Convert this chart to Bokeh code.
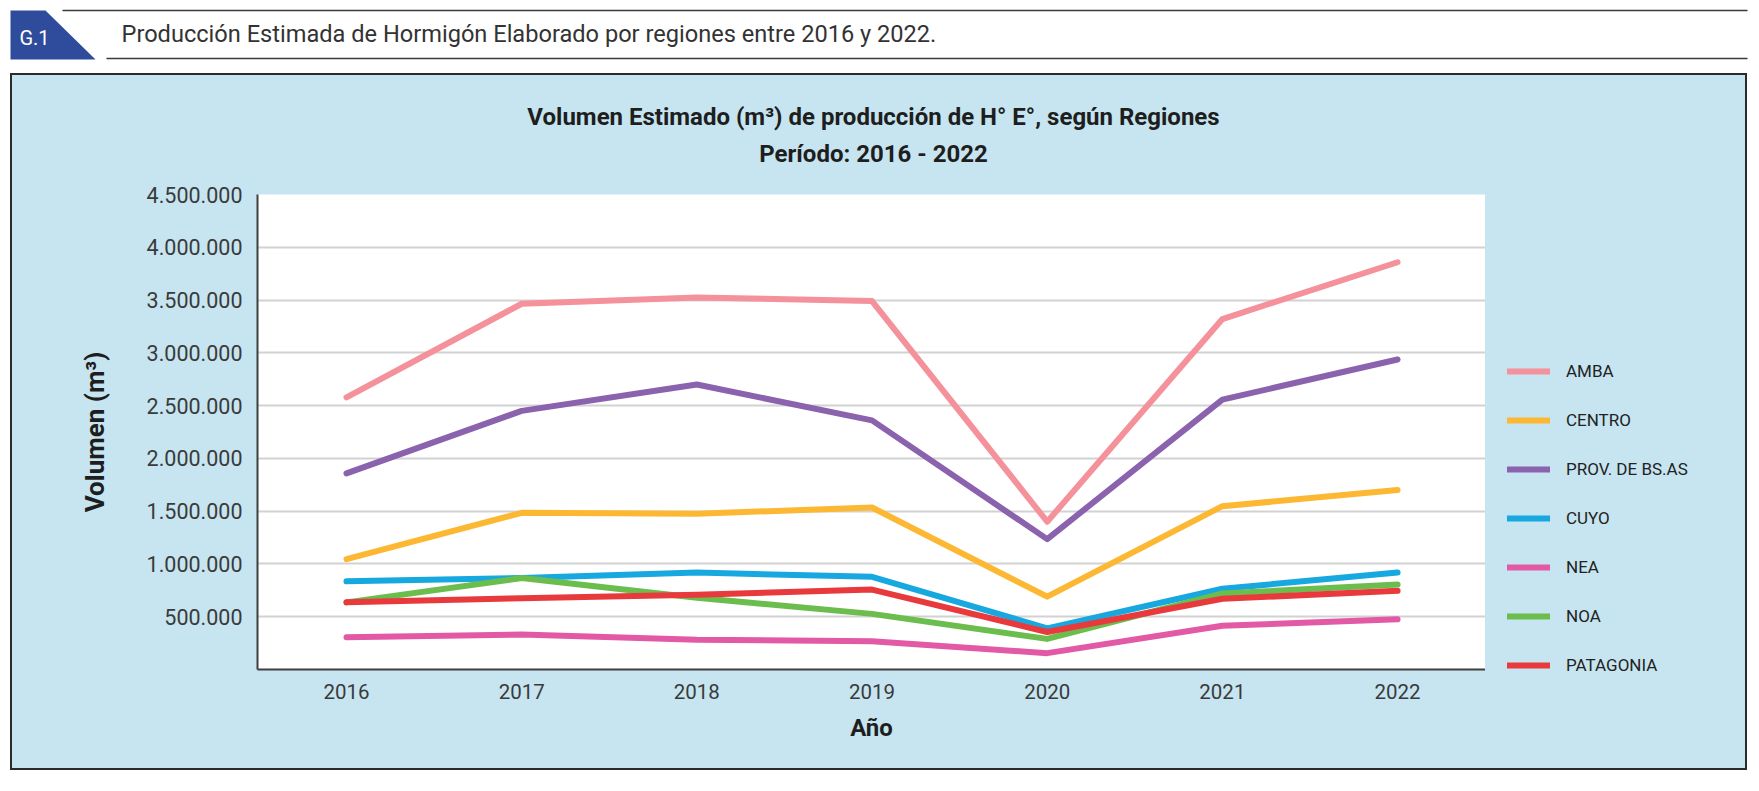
from bokeh.plotting import figure
from bokeh.models import Legend, LegendItem, FixedTicker, Range1d, Spacer
from bokeh.layouts import column, row
from bokeh.core.properties import value
from bokeh.embed import file_html
from bokeh.resources import INLINE

# ---------------- data ----------------
years = [2016, 2017, 2018, 2019, 2020, 2021, 2022]
amba = [2579000, 3465000, 3525000, 3490000, 1400000, 3320000, 3858000]
centro = [1045000, 1484000, 1476000, 1535000, 690000, 1547000, 1700000]
prov_bsas = [1858000, 2450000, 2700000, 2360000, 1235000, 2557000, 2937000]
cuyo = [835000, 866000, 918000, 878000, 390000, 765000, 918000]
nea = [305000, 331000, 281000, 268000, 155000, 415000, 475000]
noa = [636000, 866000, 680000, 527000, 290000, 720000, 805000]
patagonia = [636000, 675000, 708000, 757000, 355000, 670000, 745000]

series_names = ["AMBA", "CENTRO", "PROV. DE BS.AS", "CUYO", "NEA", "NOA", "PATAGONIA"]
series_values = [amba, centro, prov_bsas, cuyo, nea, noa, patagonia]
series_colors = ["#F4919A", "#FDB833", "#8B62AD", "#17A8E0", "#E25AA6", "#6BBE4E", "#E83A3C"]

y_ticks = [500000, 1000000, 1500000, 2000000, 2500000, 3000000, 3500000, 4000000, 4500000]
y_tick_labels = ["500.000", "1.000.000", "1.500.000", "2.000.000", "2.500.000",
                 "3.000.000", "3.500.000", "4.000.000", "4.500.000"]

header_title = "Producción Estimada de Hormigón Elaborado por regiones entre 2016 y 2022."
header_tag = "G.1"
chart_title_1 = "Volumen Estimado (m³) de producción de H° E°, según Regiones"
chart_title_2 = "Período: 2016 - 2022"
x_title = "Año"
y_title = "Volumen (m³)"

FONT = "Roboto"
BLUE_BG = "#C6E5F0"
DARK = "#2B2B2B"


def pixel_figure(w, hgt, bg, x0=0, border_left=0):
    f = figure(width=w, height=hgt, output_backend="svg", toolbar_location=None,
               x_range=Range1d(x0, w), y_range=Range1d(hgt, 0),
               x_axis_type=None, y_axis_type=None, min_border=0,
               min_border_left=border_left)
    f.title.visible = False
    f.outline_line_color = None
    f.background_fill_color = bg
    f.border_fill_color = bg
    f.xgrid.visible = False
    f.ygrid.visible = False
    return f


# ---------------- header strip ----------------
h = pixel_figure(1759, 73, "white")
h.patch([10, 45, 95, 10], [10, 10, 59, 59], fill_color="#2F4C9C", line_color=None)
h.line([62, 1747], [10, 10], line_color="#3A3A3A", line_width=1.5)
h.line([106, 1747], [58, 58], line_color="#3A3A3A", line_width=1.5)
h.text(x=[34], y=[37], text=[header_tag], text_font=value(FONT), text_font_size="20px",
       text_color="white", text_align="center", text_baseline="middle")
h.text(x=[121], y=[33], text=[header_title], text_font=value(FONT), text_font_size="23.6px",
       text_color="#333333", text_align="left", text_baseline="middle")

# ---------------- chart title strip (frame aligned with the chart frame) ----------------
PW, FL = 1473, 245
tf = pixel_figure(PW, 99, BLUE_BG, x0=FL, border_left=FL)
tf.text(x=[861, 861], y=[41, 78], text=[chart_title_1, chart_title_2],
        text_font=value(FONT), text_font_size="24px", text_font_style="bold",
        text_color="#1E1E1E", text_align="center", text_baseline="middle")

# ---------------- main chart ----------------
H = 594
p = figure(width=PW, height=H, output_backend="svg", toolbar_location=None,
           x_range=Range1d(2015.492, 2022.502), y_range=Range1d(0, 4500000),
           min_border_left=FL, min_border_right=0, min_border_top=20, min_border_bottom=99)
p.title.visible = False
p.border_fill_color = BLUE_BG
p.background_fill_color = "white"
p.outline_line_color = None

p.xgrid.visible = False
p.ygrid.ticker = FixedTicker(ticks=y_ticks)
p.ygrid.grid_line_color = "#D2D2D2"
p.ygrid.grid_line_width = 2

for ax in (p.xaxis[0], p.yaxis[0]):
    ax.axis_line_color = "#3F3F3F"
    ax.axis_line_width = 2
    ax.major_tick_line_color = None
    ax.major_tick_out = 0
    ax.major_tick_in = 0
    ax.minor_tick_line_color = None
    ax.major_label_text_font = FONT
    ax.major_label_text_color = "#3A3A3A"
    ax.axis_label_text_font = FONT
    ax.axis_label_text_font_style = "bold"
    ax.axis_label_text_color = "#1E1E1E"

p.xaxis.ticker = FixedTicker(ticks=years)
p.xaxis.major_label_text_font_size = "20.5px"
p.xaxis.major_label_standoff = 14
p.xaxis.axis_label = x_title
p.xaxis.axis_label_text_font_size = "24px"
p.xaxis.axis_label_standoff = 12

p.yaxis.ticker = FixedTicker(ticks=y_ticks)
p.yaxis.major_label_overrides = {t: l for t, l in zip(y_ticks, y_tick_labels)}
p.yaxis.major_label_text_font_size = "21.5px"
p.yaxis.major_label_standoff = 15
p.yaxis.axis_label = y_title
p.yaxis.axis_label_text_font_size = "26px"
p.yaxis.axis_label_standoff = 34

for vals, col in zip(series_values, series_colors):
    p.line(years, vals, line_color=col, line_width=6, line_cap="round", line_join="round")

# ---------------- legend panel ----------------
LW, LH = 260, 693
lf = pixel_figure(LW, LH, BLUE_BG)
items = []
for name, col in zip(series_names, series_colors):
    r = lf.line(x=[-100, -90], y=[-100, -100], line_color=col, line_width=6, line_cap="round")
    items.append(LegendItem(label=name, renderers=[r]))

legend = Legend(items=items, location=(22, 93), orientation="vertical",
                padding=0, margin=0, spacing=29, glyph_width=43, glyph_height=20,
                label_height=20, label_standoff=16,
                label_text_font=FONT, label_text_font_size="17px", label_text_color="#222222",
                border_line_color=None, background_fill_alpha=0)
lf.add_layout(legend)

box = row(column(tf, p), lf,
          styles={"border": "2px solid " + DARK, "background-color": BLUE_BG})
layout = column(h, row(Spacer(width=10, height=LH + 4), box))
open("out.html", "w").write(file_html(layout, INLINE))
